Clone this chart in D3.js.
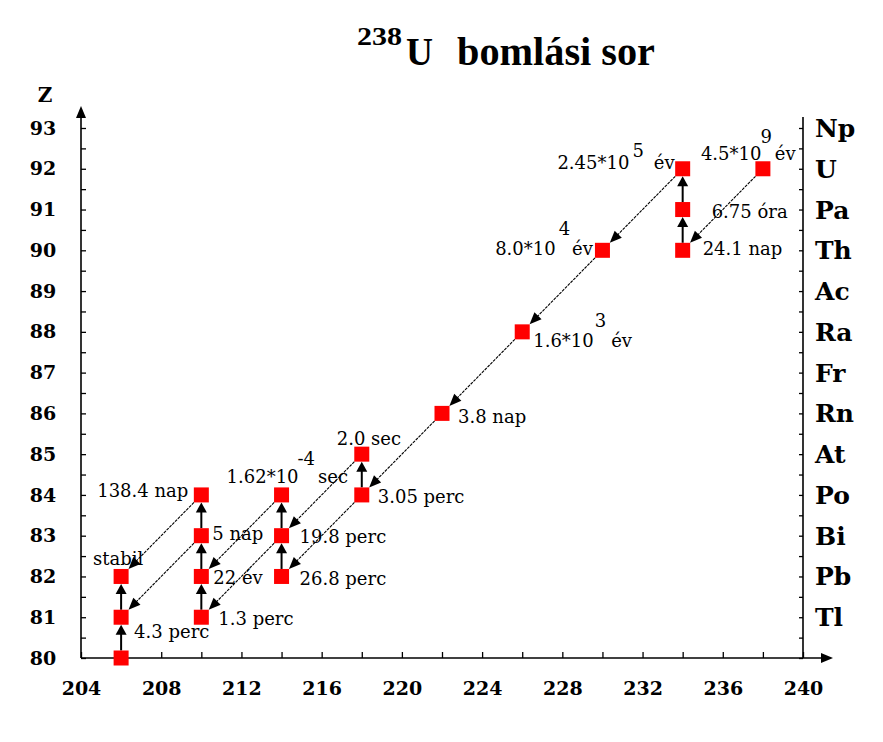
<!DOCTYPE html>
<html><head><meta charset="utf-8">
<script src="https://cdn.jsdelivr.net/npm/d3@7"></script>
<style>body{margin:0;background:#fff}svg{display:block}</style>
</head><body><svg id="c" width="883" height="742"></svg>
<script>
// ---- data ----
const massTicks = [204, 208, 212, 216, 220, 224, 228, 232, 236, 240];
const zTicks = [80, 81, 82, 83, 84, 85, 86, 87, 88, 89, 90, 91, 92, 93];
const elementZ = [81, 82, 83, 84, 85, 86, 87, 88, 89, 90, 91, 92, 93];
const elementSymbols = ["Tl", "Pb", "Bi", "Po", "At", "Rn", "Fr", "Ra", "Ac", "Th", "Pa", "U", "Np"];
const nuclideA = [238, 234, 234, 234, 230, 226, 222, 218, 218, 214, 214, 214, 210, 210, 210, 210, 206, 206, 206];
const nuclideZ = [92, 90, 91, 92, 90, 88, 86, 84, 85, 82, 83, 84, 81, 82, 83, 84, 80, 81, 82];
const alphaFrom = [[238,92],[234,92],[230,90],[226,88],[222,86],[218,84],[218,85],[214,84],[214,83],[210,84],[210,83]];
const alphaTo   = [[234,90],[230,90],[226,88],[222,86],[218,84],[214,82],[214,83],[210,82],[210,81],[206,82],[206,81]];
const betaFrom  = [[234,90],[234,91],[218,84],[214,82],[214,83],[210,81],[210,82],[210,83],[206,80],[206,81]];
const betaTo    = [[234,91],[234,92],[218,85],[214,83],[214,84],[210,82],[210,83],[210,84],[206,81],[206,82]];
const halfLifeText = ["4.5*10^9 év","2.45*10^5 év","6.75 óra","24.1 nap","8.0*10^4 év","1.6*10^3 év","3.8 nap","2.0 sec","1.62*10^-4 sec","3.05 perc","138.4 nap","5 nap","19.8 perc","stabil","22 év","26.8 perc","1.3 perc","4.3 perc"];
const labelNuclide = [[238,92],[234,92],[234,91],[234,90],[230,90],[226,88],[222,86],[218,85],[214,84],[218,84],[210,84],[210,83],[214,83],[206,82],[210,82],[214,82],[210,81],[206,81]];
// layout of labels: [dx, dy, anchor, expDx, unitDx, raise]
const labelLayout = [
  [-62,-9,"start",-1,3,17],[-8,0,"end",3,10,12],[29,8.5,"start"],[20,5,"start"],
  [-9.5,5,"end",3,2,20],[11,15,"start",1,5,20],[16,10,"start"],[-25,-9,"start"],
  [-55,-12,"start",-1,3,18],[16,8,"start"],[-13,2,"end"],[11,4,"start"],
  [18,7,"start"],[-28,-11.5,"start"],[12,7.5,"start"],[18,8.5,"start"],
  [17,8,"start"],[13,21,"start"]
];

// ---- chart ----
const svg = d3.select("#c");
const x = d3.scaleLinear().domain([204, 240]).range([81, 803]);
const y = d3.scaleLinear().domain([80, 93]).range([658, 128]);
const serif = "'DejaVu Serif', serif";
const titleFont = "'Liberation Serif', serif";

// title
const title = svg.append("g").attr("font-family", titleFont).attr("font-weight", "bold").attr("fill", "#000");
title.append("text").attr("x", 357).attr("y", 45).attr("font-size", 25).attr("textLength", 45).attr("lengthAdjust", "spacingAndGlyphs").text("238");
title.append("text").attr("x", 406).attr("y", 65).attr("font-size", 40).attr("textLength", 27).attr("lengthAdjust", "spacingAndGlyphs").text("U");
title.append("text").attr("x", 457).attr("y", 65).attr("font-size", 40).attr("textLength", 198).attr("lengthAdjust", "spacingAndGlyphs").text("bomlási sor");

svg.append("text").attr("x", 45).attr("y", 102).attr("text-anchor", "middle")
  .attr("font-family", serif).attr("font-weight", "bold").attr("font-size", 20).text("Z");

// axes lines
const ax = svg.append("g").attr("stroke", "#000").attr("stroke-width", 1.6);
ax.append("line").attr("x1", x(204)).attr("x2", x(204)).attr("y1", y(80)).attr("y2", 112);
ax.append("line").attr("x1", x(204)).attr("x2", 826).attr("y1", y(80)).attr("y2", y(80));
ax.append("line").attr("x1", x(240)).attr("x2", x(240)).attr("y1", y(80)).attr("y2", 117);
svg.append("path").attr("d", `M${x(204)},106 L${x(204)-5},118 L${x(204)+5},118 Z`).attr("fill", "#000");
svg.append("path").attr("d", `M833,${y(80)} L821,${y(80)-5} L821,${y(80)+5} Z`).attr("fill", "#000");

// tick marks via d3 axes
const halfZ = d3.range(80, 93.01, 0.5);
const gL = svg.append("g").attr("transform", `translate(${x(204)},0)`)
  .call(d3.axisRight(y).tickValues(halfZ).tickSize(5).tickFormat(""));
const gR = svg.append("g").attr("transform", `translate(${x(240)},0)`)
  .call(d3.axisLeft(y).tickValues(halfZ).tickSize(4).tickFormat(""));
const gB = svg.append("g").attr("transform", `translate(0,${y(80)})`)
  .call(d3.axisTop(x).tickValues(d3.range(204, 240.01, 2)).tickSize(6).tickFormat(""));
[gL, gR, gB].forEach(g => { g.select(".domain").remove(); g.selectAll("line").attr("stroke", "#000").attr("stroke-width", 1.3); });

// tick labels
const gLab = svg.append("g").attr("transform", `translate(43,0)`)
  .call(d3.axisLeft(y).tickValues(zTicks).tickSize(0).tickPadding(0).tickFormat(d3.format("d")));
gLab.select(".domain").remove();
gLab.selectAll("text").attr("text-anchor", "middle").attr("font-family", serif)
  .attr("font-weight", "bold").attr("font-size", 19).attr("fill", "#000");
const gBLab = svg.append("g").attr("transform", `translate(0,${y(80)})`)
  .call(d3.axisBottom(x).tickValues(massTicks).tickSize(0).tickPadding(24).tickFormat(d3.format("d")));
gBLab.select(".domain").remove();
gBLab.selectAll("text").attr("font-family", serif).attr("font-weight", "bold").attr("font-size", 19).attr("fill", "#000");

// element symbols
svg.append("g").selectAll("text").data(elementSymbols).join("text")
  .attr("x", 815).attr("y", (d, i) => y(elementZ[i]) + 9)
  .attr("font-family", serif).attr("font-weight", "bold").attr("font-size", 25).text(d => d);

// decay lines
const h = 7.5;
function clip(p, q) {
  const dx = q[0] - p[0], dy = q[1] - p[1], L = Math.hypot(dx, dy);
  const t = Math.min(dx ? h / Math.abs(dx) : Infinity, dy ? h / Math.abs(dy) : Infinity);
  return [[p[0] + dx * t, p[1] + dy * t], [q[0] - dx * t, q[1] - dy * t], dx / L, dy / L];
}
function arrowHead(g, tip, ux, uy, len, hw) {
  const bx = tip[0] - ux * len, by = tip[1] - uy * len;
  g.append("path").attr("d", `M${tip[0]},${tip[1]} L${bx - uy * hw},${by + ux * hw} L${bx + uy * hw},${by - ux * hw} Z`).attr("fill", "#000");
}
const gLines = svg.append("g");
alphaFrom.forEach((f, i) => {
  const t = alphaTo[i];
  const [s, e, ux, uy] = clip([x(f[0]), y(f[1])], [x(t[0]), y(t[1])]);
  gLines.append("line").attr("x1", s[0]).attr("y1", s[1]).attr("x2", e[0] - ux * 6).attr("y2", e[1] - uy * 6)
    .attr("stroke", "#000").attr("stroke-width", 1.1).attr("stroke-dasharray", "3,1");
  arrowHead(gLines, e, ux, uy, 12, 5);
});
betaFrom.forEach((f, i) => {
  const t = betaTo[i];
  const [s, e, ux, uy] = clip([x(f[0]), y(f[1])], [x(t[0]), y(t[1])]);
  gLines.append("line").attr("x1", s[0]).attr("y1", s[1]).attr("x2", e[0] - ux * 5).attr("y2", e[1] - uy * 5)
    .attr("stroke", "#000").attr("stroke-width", 2);
  arrowHead(gLines, e, ux, uy, 10, 5.5);
});

// nuclide squares
svg.append("g").selectAll("rect").data(nuclideA).join("rect")
  .attr("x", (d) => x(d) - h).attr("y", (d, i) => y(nuclideZ[i]) - h)
  .attr("width", 2 * h).attr("height", 2 * h).attr("fill", "#ff0000");

// half-life labels
const gT = svg.append("g").attr("font-family", serif).attr("font-size", 18).attr("fill", "#000");
halfLifeText.forEach((txt, i) => {
  const n = labelNuclide[i], L = labelLayout[i];
  const t = gT.append("text").attr("x", x(n[0]) + L[0]).attr("y", y(n[1]) + L[1]).attr("text-anchor", L[2]);
  if (txt.includes("^")) {
    const [base, rest] = txt.split("^");
    const sp = rest.indexOf(" ");
    const exp = rest.slice(0, sp), unit = rest.slice(sp + 1);
    t.append("tspan").text(base);
    t.append("tspan").attr("dx", L[3]).attr("dy", -L[5]).text(exp);
    t.append("tspan").attr("dx", L[4]).attr("dy", L[5]).text(unit);
  } else {
    t.text(txt);
  }
});
</script></body></html>
